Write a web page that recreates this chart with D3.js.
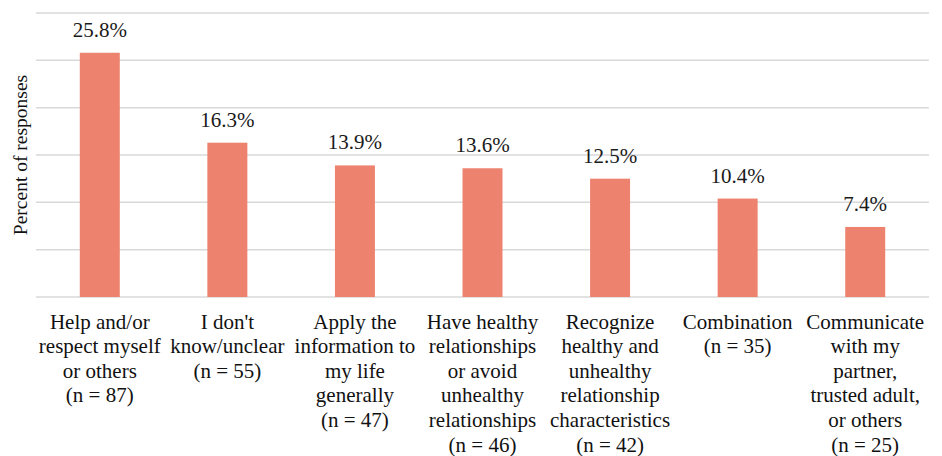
<!DOCTYPE html>
<html>
<head>
<meta charset="utf-8">
<script src="https://cdn.jsdelivr.net/npm/d3@7"></script>
<style>
  html, body { margin: 0; padding: 0; background: #fff; }
  svg { display: block; }
  svg text { font-family: 'Liberation Serif', Tinos, 'Times New Roman', Times, 'DejaVu Serif', serif; }
</style>
</head>
<body>
<div id="chart"></div>
<script>
// data
const categories = [
  ['Help and/or', 'respect myself', 'or others', '(n = 87)'],
  ["I don't", 'know/unclear', '(n = 55)'],
  ['Apply the', 'information to', 'my life', 'generally', '(n = 47)'],
  ['Have healthy', 'relationships', 'or avoid', 'unhealthy', 'relationships', '(n = 46)'],
  ['Recognize', 'healthy and', 'unhealthy', 'relationship', 'characteristics', '(n = 42)'],
  ['Combination', '(n = 35)'],
  ['Communicate', 'with my', 'partner,', 'trusted adult,', 'or others', '(n = 25)']
];
const values = [25.8, 16.3, 13.9, 13.6, 12.5, 10.4, 7.4];
const yTicks = [0, 5, 10, 15, 20, 25, 30];

const w = 942;
const h = 456;
const margins = { left: 36, right: 13, top: 13, bottom: 159 };
const serif = "'Liberation Serif', Tinos, 'Times New Roman', Times, 'DejaVu Serif', serif";

const svg = d3.select('#chart')
  .append('svg')
  .attr('width', w)
  .attr('height', h)
  .attr('font-family', serif);

const x = d3.scaleBand()
  .domain(d3.range(categories.length))
  .range([margins.left, w - margins.right])
  .paddingInner(0.6865)
  .paddingOuter(0.6865 / 2);

const y = d3.scaleLinear()
  .domain([0, 30])
  .range([h - margins.bottom, margins.top]);

// gridlines
svg.append('g')
  .attr('class', 'grid')
  .selectAll('line')
  .data(yTicks)
  .enter()
  .append('line')
  .attr('x1', margins.left)
  .attr('x2', w - margins.right)
  .attr('y1', d => y(d))
  .attr('y2', d => y(d))
  .attr('stroke', '#d9d9d9')
  .attr('stroke-width', 1.5);

// bars
svg.append('g')
  .selectAll('rect')
  .data(values)
  .enter()
  .append('rect')
  .attr('x', (d, i) => x(i))
  .attr('y', d => y(d))
  .attr('width', x.bandwidth())
  .attr('height', d => y(0) - y(d))
  .attr('fill', '#ed836f');

// value labels
svg.append('g')
  .selectAll('text')
  .data(values)
  .enter()
  .append('text')
  .attr('x', (d, i) => x(i) + x.bandwidth() / 2)
  .attr('y', d => y(d) - 16)
  .attr('text-anchor', 'middle')
  .attr('font-family', serif)
  .style('font-size', '21px')
  .attr('fill', '#1a1a1a')
  .text(d => d.toFixed(1) + '%');

// category labels
const labels = svg.append('g')
  .selectAll('text')
  .data(categories)
  .enter()
  .append('text')
  .attr('x', (d, i) => x(i) + x.bandwidth() / 2)
  .attr('y', 328.5)
  .attr('text-anchor', 'middle')
  .attr('font-family', serif)
  .style('font-size', '21px')
  .attr('fill', '#111');

labels.selectAll('tspan')
  .data(d => d)
  .enter()
  .append('tspan')
  .attr('x', function() { return d3.select(this.parentNode).attr('x'); })
  .attr('dy', (d, i) => i === 0 ? 0 : 24.6)
  .text(d => d);

// y axis title
svg.append('text')
  .attr('transform', `translate(27, ${(y(0) + y(30)) / 2}) rotate(-90)`)
  .attr('text-anchor', 'middle')
  .attr('font-family', serif)
  .style('font-size', '19.5px')
  .attr('fill', '#111')
  .text('Percent of responses');
</script>
</body>
</html>
